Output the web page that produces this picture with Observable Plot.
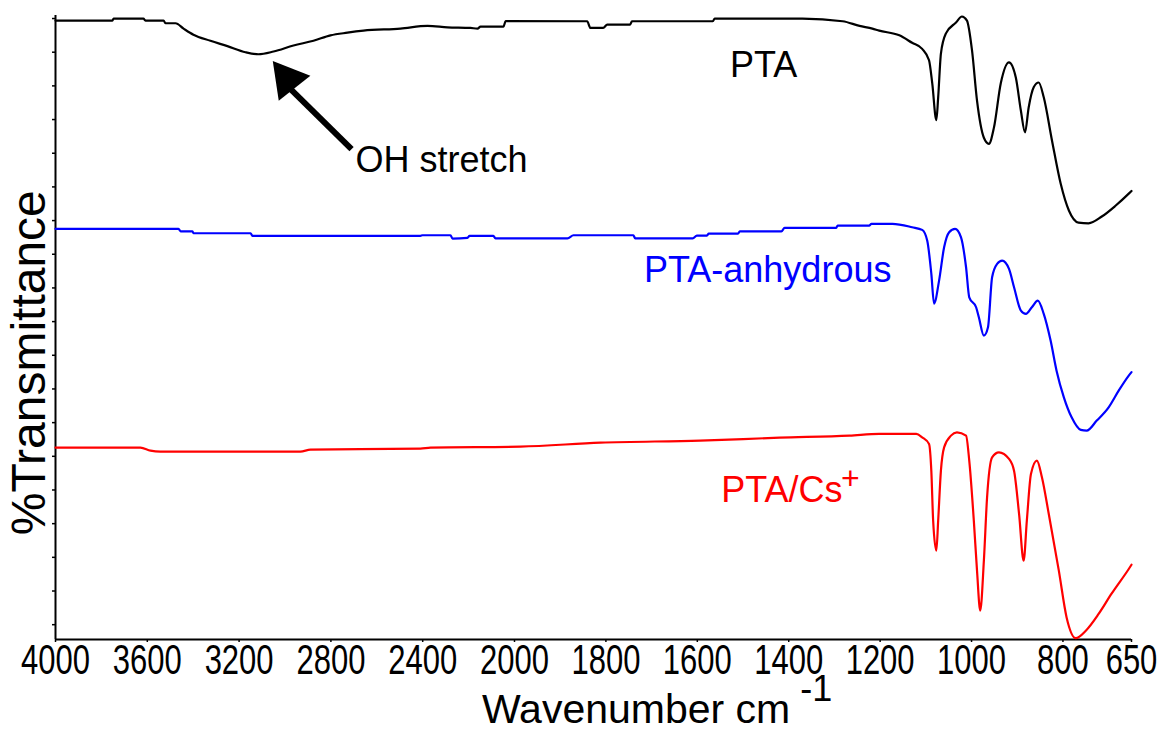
<!DOCTYPE html>
<html>
<head>
<meta charset="utf-8">
<script src="https://cdn.jsdelivr.net/npm/d3@7"></script>
<script src="https://cdn.jsdelivr.net/npm/@observablehq/plot@0.6"></script>
<style>
  html, body { margin: 0; padding: 0; background: #fff; }
  #chart svg { font-family: "Liberation Sans", Arial, sans-serif; }
</style>
</head>
<body>
<div id="chart"></div>
<script>
// X tick labels (wavenumber, cm-1)
const xTicks = [4000, 3600, 3200, 2800, 2400, 2000, 1800, 1600, 1400, 1200, 1000, 800, 650];
const yTicks = [0, 5, 10, 15, 20, 25, 30, 35, 40, 45, 50, 55, 60, 65, 70, 75, 80, 85, 90];

// PTA (black)
const ptaWn = [4000, 3752, 3747, 3617, 3608, 3529, 3521, 3477, 3442, 3399, 3325, 3251, 3172, 3116, 3050, 2963, 2876, 2802, 2728, 2658, 2497, 2379, 2292, 2192, 2161, 2148, 2048, 2039, 1841, 1834, 1806, 1797, 1747, 1743, 1566, 1562, 1370, 1282, 1245, 1217, 1202, 1158, 1130, 1108, 1093, 1086, 1077, 1073, 1067, 1056, 1034, 1021, 1010, 999, 988, 973, 962, 951, 936, 918, 903, 892, 883, 875, 864, 853, 842, 824, 805, 787, 766, 744, 715, 685, 656, 650];
const ptaT = [89.7, 89.7, 90.0, 90.0, 89.7, 89.7, 89.3, 89.3, 88.5, 87.6, 86.7, 85.9, 85.0, 84.7, 85.1, 86.0, 86.7, 87.5, 87.9, 88.2, 88.5, 88.9, 88.7, 88.6, 88.5, 88.8, 88.8, 89.6, 89.6, 88.6, 88.6, 89.1, 89.1, 89.6, 89.6, 90.0, 90.0, 89.6, 88.9, 88.5, 88.2, 87.5, 86.4, 85.5, 83.8, 80.4, 74.9, 78.3, 84.8, 87.8, 89.4, 90.3, 89.7, 85.3, 77.8, 72.3, 71.4, 73.8, 80.4, 83.5, 81.2, 76.3, 73.1, 76.8, 79.8, 80.5, 78.3, 71.9, 65.5, 61.5, 59.7, 59.6, 60.6, 62.2, 64.0, 64.4];

// PTA-anhydrous (blue)
const anhWn = [4000, 3464, 3455, 3403, 3399, 3150, 3142, 2410, 2401, 2279, 2270, 2205, 2196, 2092, 2083, 1884, 1871, 1740, 1736, 1610, 1601, 1579, 1575, 1511, 1507, 1416, 1409, 1296, 1293, 1224, 1219, 1173, 1130, 1108, 1097, 1088, 1082, 1071, 1060, 1049, 1036, 1023, 1012, 1005, 990, 984, 973, 964, 955, 944, 933, 918, 907, 892, 881, 868, 855, 842, 827, 814, 798, 781, 761, 748, 726, 700, 678, 656, 650];
const anhT = [58.77, 58.77, 58.41, 58.41, 58.12, 58.12, 57.73, 57.73, 57.82, 57.82, 57.33, 57.43, 57.73, 57.73, 57.37, 57.37, 57.82, 57.82, 57.37, 57.37, 57.78, 57.78, 58.07, 58.07, 58.41, 58.41, 58.92, 58.92, 59.26, 59.26, 59.51, 59.51, 59.01, 58.62, 57.03, 52.13, 47.68, 51.09, 56.04, 58.27, 58.77, 57.52, 53.07, 48.61, 47.13, 45.64, 42.92, 44.16, 51.58, 53.57, 54.06, 52.83, 50.10, 46.64, 46.15, 47.13, 48.12, 46.15, 42.18, 37.72, 33.76, 30.79, 28.92, 28.81, 30.30, 32.27, 34.75, 36.98, 37.5];

// PTA/Cs+ (red)
const csWn = [4000, 3630, 3586, 3543, 2933, 2889, 2410, 2366, 1987, 1812, 1594, 1420, 1267, 1202, 1121, 1108, 1093, 1088, 1084, 1077, 1073, 1067, 1060, 1045, 1032, 1012, 1005, 995, 988, 981, 973, 966, 955, 940, 918, 907, 896, 886, 879, 870, 857, 846, 831, 809, 792, 772, 750, 722, 694, 656, 650];
const csT = [26.29, 26.29, 25.84, 25.69, 25.69, 25.99, 26.14, 26.29, 26.44, 27.03, 27.33, 27.77, 28.07, 28.32, 28.32, 27.82, 26.84, 22.87, 15.45, 10.99, 15.45, 22.87, 26.33, 28.07, 28.56, 28.07, 24.36, 15.45, 8.02, 2.08, 9.51, 18.91, 24.85, 25.59, 24.61, 22.87, 16.44, 9.51, 15.45, 22.38, 24.36, 21.88, 16.44, 8.02, 1.08, -2.0, -0.89, 1.59, 4.56, 8.27, 8.9];

const series = [
  {name: "PTA", wn: ptaWn, t: ptaT, color: "#000000"},
  {name: "PTA-anhydrous", wn: anhWn, t: anhT, color: "#0000ff"},
  {name: "PTA/Cs+", wn: csWn, t: csT, color: "#ff0000"}
];
const rows = series.flatMap(s => s.wn.map((w, i) => ({series: s.name, wn: w, t: s.t[i], color: s.color})));

// Annotations
const labels = [
  {text: "PTA", wn: 1455, t: 83.0, color: "#000000"},
  {text: "PTA-anhydrous", wn: 1446, t: 52.6, color: "#0000ff"},
  {text: "PTA/Cs", wn: 1415, t: 20.0, color: "#ff0000"},
  {text: "OH stretch", wn: 2318, t: 68.9, color: "#000000"}
];
const supLabels = [{text: "+", wn: 1265, t: 21.6, color: "#ff0000"}];
const arrowShaft = [{x1: 2710, y1: 70.6, x2: 2990, y2: 80.0}];
const arrowHead = [{wn: 2990, t: 81.0}];

const W = 1157, H = 738;
const chart = Plot.plot({
  width: W,
  height: H,
  marginLeft: 55,
  marginRight: 26,
  marginTop: 15,
  marginBottom: 99,
  style: {fontSize: "30px", color: "#000", background: "#fff"},
  x: {type: "linear", domain: [4000, 2000, 650], range: [55, 514, 1131]},
  y: {type: "linear", domain: [-2.2, 90.45]},
  marks: [
    Plot.axisX({ticks: xTicks, tickSize: 3, tickPadding: 6, tickFormat: d => String(d), label: null, fontSize: 31, strokeWidth: 1.5}),
    Plot.axisY({ticks: yTicks, tickSize: 3, tickFormat: () => "", label: null, strokeWidth: 1.5}),
    Plot.ruleY([-2.2], {stroke: "#000", strokeWidth: 2}),
    Plot.ruleX([4000], {stroke: "#000", strokeWidth: 2}),
    Plot.line(rows, {x: "wn", y: "t", z: "series", stroke: "color", strokeWidth: 2.2, curve: "monotone-x"}),
    Plot.text(labels, {x: "wn", y: "t", text: "text", fill: "color", fontSize: 36, ariaLabel: "labels"}),
    Plot.text(supLabels, {x: "wn", y: "t", text: "text", fill: "color", fontSize: 32, ariaLabel: "labels"}),
    Plot.link(arrowShaft, {x1: "x1", y1: "y1", x2: "x2", y2: "y2", stroke: "#000", strokeWidth: 6}),
    Plot.dot(arrowHead, {x: "wn", y: "t", symbol: "triangle", r: 15, fill: "#000", stroke: null, rotate: -38.5}),
    Plot.text(["%Transmittance"], {frameAnchor: "left", textAnchor: "middle", y: 38.9, dx: -26, rotate: -90, fontSize: 48, fill: "#000"}),
    Plot.text(["Wavenumber cm"], {frameAnchor: "bottom", textAnchor: "middle", lineAnchor: "middle", x: 1734, dy: 70, fontSize: 41, fill: "#000", ariaLabel: "xtitle"}),
    Plot.text(["-1"], {frameAnchor: "bottom", textAnchor: "middle", lineAnchor: "middle", x: 1340, dy: 50, fontSize: 36, fill: "#000", ariaLabel: "xtitle"})
  ]
});
document.getElementById("chart").appendChild(chart);

// Vertical stretch of glyphs to match the reference's tall lettering
function stretch(selector, sy) {
  chart.querySelectorAll(selector).forEach(t => {
    const b = t.getBBox();
    const cx = b.x + b.width / 2, cy = b.y + b.height / 2;
    const prev = t.getAttribute("transform") || "";
    t.setAttribute("transform", `${prev} translate(${cx},${cy}) scale(1,${sy}) translate(${-cx},${-cy})`);
  });
}
stretch('g[aria-label="x-axis tick label"] text', 1.35);
stretch('g[aria-label="labels"] text', 1.15);
stretch('g[aria-label="xtitle"] text', 1.25);
</script>
</body>
</html>
